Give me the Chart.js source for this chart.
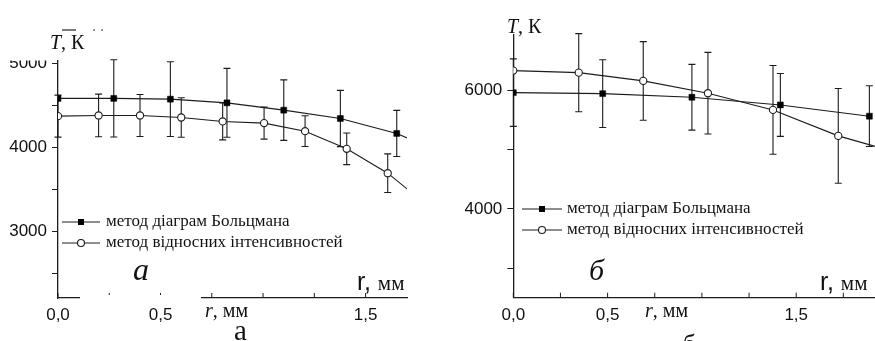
<!DOCTYPE html>
<html>
<head>
<meta charset="utf-8">
<script src="https://cdn.jsdelivr.net/npm/chart.js@4.4.0/dist/chart.umd.min.js"></script>
<style>
  body { margin: 0; background: #fff; width: 875px; height: 341px; overflow: hidden; position: relative; }
  canvas { position: absolute; top: 0; }
  #ga { left: 0; }
  #gb { left: 440px; }
</style>
</head>
<body>
<canvas id="ga" width="440" height="341"></canvas>
<canvas id="gb" width="470" height="341"></canvas>
<script>
const seriesNames = ['метод діаграм Больцмана', 'метод відносних інтенсивностей'];

// panel а
const rBoltzA = [0, 0.272, 0.548, 0.824, 1.101, 1.377, 1.652, 1.93];
const tBoltzA = [4580, 4580, 4571, 4527, 4440, 4341, 4163, 3870];
const errBoltzA = [null, 460, 445, 410, 360, 335, 275, null];
const rRelA = [0, 0.198, 0.40, 0.601, 0.803, 1.005, 1.205, 1.408, 1.608, 1.81];
const tRelA = [4369, 4377, 4377, 4353, 4306, 4286, 4190, 3980, 3690, 3290];
const errRelA = [250, 254, 250, 235, 220, 190, 183, 188, 230, null];
const xTicksA = [0, 0.25, 0.5, 0.75, 1, 1.25, 1.5];
const yTicksA = [2500, 3000, 3500, 4000, 4500, 5000];
const xLabelsA = { 0: '0,0', 0.5: '0,5', 1.5: '1,5' };
const yLabelsA = { 3000: '3000', 4000: '4000', 5000: '5000' };

// panel б
const rBoltzB = [0, 0.474, 0.947, 1.416, 1.888];
const tBoltzB = [5966, 5949, 5888, 5758, 5568];
const errBoltzB = [570, 572, 555, 532, 513];
const rRelB = [0, 0.347, 0.689, 1.032, 1.377, 1.723, 2.068];
const tRelB = [6338, 6304, 6164, 5956, 5674, 5235, 4923];
const errRelB = [null, 660, 664, 690, 750, 800, null];
const xTicksB = [0, 0.25, 0.5, 0.75, 1, 1.25, 1.5, 1.75];
const yTicksB = [3000, 4000, 5000, 6000];
const xLabelsB = { 0: '0,0', 0.5: '0,5', 1.5: '1,5' };
const yLabelsB = { 4000: '4000', 6000: '6000' };

const INK = '#1c1c1c';
const SERIF = '"Liberation Serif", "Times New Roman", serif';
const SANS = '"Liberation Sans", Arial, sans-serif';

function pts(xs, ys) {
    return xs.map((x, i) => ({ x: x, y: ys[i] }));
}

function drawParts(ctx, x, y, parts) {
    ctx.textBaseline = 'alphabetic';
    ctx.textAlign = 'left';
    for (const p of parts) {
        ctx.font = p[1];
        ctx.fillText(p[0], x, y);
        x += ctx.measureText(p[0]).width;
    }
}

const extras = {
    id: 'extras',
    beforeDatasetsDraw(chart, args, o) {
        const ctx = chart.ctx;
        const xs = chart.scales.x, ys = chart.scales.y;
        ctx.save();
        ctx.strokeStyle = INK;
        ctx.lineWidth = 1.1;
        o.errors.forEach((errs, d) => {
            chart.data.datasets[d].data.forEach((p, i) => {
                const e = errs[i];
                if (e == null) return;
                const px = xs.getPixelForValue(p.x);
                const y1 = ys.getPixelForValue(p.y + e);
                const y2 = ys.getPixelForValue(p.y - e);
                ctx.beginPath();
                ctx.moveTo(px, y1); ctx.lineTo(px, y2);
                ctx.moveTo(px - 3.5, y1); ctx.lineTo(px + 3.5, y1);
                ctx.moveTo(px - 3.5, y2); ctx.lineTo(px + 3.5, y2);
                ctx.stroke();
            });
        });
        ctx.restore();
    },
    afterDraw(chart, args, o) {
        const ctx = chart.ctx;
        const xs = chart.scales.x;
        const bottom = chart.chartArea.bottom;
        ctx.save();
        // inward ticks on r axis
        ctx.strokeStyle = INK;
        ctx.lineWidth = 1;
        xs.ticks.forEach(t => {
            const px = xs.getPixelForValue(t.value);
            ctx.beginPath();
            ctx.moveTo(px, bottom);
            ctx.lineTo(px, bottom - 5);
            ctx.stroke();
        });
        // legend
        const lg = o.legend;
        chart.data.datasets.forEach((ds, i) => {
            const y = lg.y + i * lg.gap;
            ctx.strokeStyle = INK;
            ctx.lineWidth = 1.1;
            ctx.beginPath();
            ctx.moveTo(lg.x0, y); ctx.lineTo(lg.x1, y);
            ctx.stroke();
            const mx = (lg.x0 + lg.x1) / 2;
            if (i === 0) {
                ctx.fillStyle = '#000';
                ctx.fillRect(mx - 3, y - 3, 6, 6);
            } else {
                ctx.fillStyle = '#fff';
                ctx.beginPath();
                ctx.arc(mx, y, 3.5, 0, Math.PI * 2);
                ctx.fill();
                ctx.stroke();
            }
            ctx.fillStyle = '#111';
            ctx.font = lg.font;
            ctx.textBaseline = 'middle';
            ctx.textAlign = 'left';
            ctx.fillText(ds.label, lg.tx, y);
        });
        // white patches as in the scan
        ctx.fillStyle = '#fff';
        o.masks.forEach(m => ctx.fillRect(m[0], m[1], m[2], m[3]));
        // captions
        ctx.fillStyle = '#111';
        o.texts.forEach(t => drawParts(ctx, t.x, t.y, t.parts));
        ctx.strokeStyle = '#333';
        o.strokes.forEach(s => {
            ctx.lineWidth = s[4];
            ctx.beginPath();
            ctx.moveTo(s[0], s[1]); ctx.lineTo(s[2], s[3]);
            ctx.stroke();
        });
        ctx.restore();
    }
};

function makeChart(id, cfg) {
    return new Chart(document.getElementById(id), {
        type: 'line',
        data: {
            datasets: [{
                label: seriesNames[0],
                data: pts(cfg.rBoltz, cfg.tBoltz),
                borderColor: INK,
                borderWidth: 1.1,
                pointStyle: 'rect',
                pointRadius: 4.2,
                pointBackgroundColor: '#000',
                pointBorderColor: '#000',
                pointBorderWidth: 0.5,
                tension: 0
            }, {
                label: seriesNames[1],
                data: pts(cfg.rRel, cfg.tRel),
                borderColor: INK,
                borderWidth: 1.1,
                pointStyle: 'circle',
                pointRadius: 3.6,
                pointBackgroundColor: '#fff',
                pointBorderColor: INK,
                pointBorderWidth: 1.1,
                tension: 0
            }]
        },
        options: {
            responsive: false,
            animation: false,
            layout: { padding: { left: 0, right: cfg.padRight, top: cfg.padTop, bottom: 0 } },
            scales: {
                x: {
                    type: 'linear',
                    min: 0,
                    max: cfg.xMax,
                    afterBuildTicks: s => { s.ticks = cfg.xTicks.map(v => ({ value: v })); },
                    afterFit: s => { s.height = cfg.xHeight; },
                    border: { display: true, color: INK, width: 1.3 },
                    grid: { display: true, drawOnChartArea: false, drawTicks: false },
                    ticks: {
                        padding: 7,
                        color: '#111',
                        font: { family: SANS, size: 17 },
                        maxRotation: 0,
                        autoSkip: false,
                        callback: v => cfg.xLabels[v] || ''
                    }
                },
                y: {
                    type: 'linear',
                    min: cfg.yMin,
                    max: cfg.yMax,
                    afterBuildTicks: s => { s.ticks = cfg.yTicks.map(v => ({ value: v })); },
                    afterFit: s => { s.width = cfg.yWidth; },
                    border: { display: true, color: INK, width: 1.3 },
                    grid: { display: true, drawOnChartArea: false, drawTicks: true, tickLength: 6, color: INK },
                    ticks: {
                        padding: 5,
                        color: '#111',
                        font: { family: SANS, size: 17 },
                        autoSkip: false,
                        callback: v => cfg.yLabels[v] || ''
                    }
                }
            },
            plugins: {
                legend: { display: false },
                tooltip: { enabled: false },
                extras: {
                    errors: [cfg.errBoltz, cfg.errRel],
                    legend: cfg.legend,
                    masks: cfg.masks,
                    texts: cfg.texts,
                    strokes: cfg.strokes
                }
            }
        },
        plugins: [extras]
    });
}

const capFont = '20px ' + SERIF;
const capItalic = 'italic 20px ' + SERIF;

makeChart('ga', {
    rBoltz: rBoltzA, tBoltz: tBoltzA, errBoltz: errBoltzA,
    rRel: rRelA, tRel: tRelA, errRel: errRelA,
    xTicks: xTicksA, yTicks: yTicksA, xLabels: xLabelsA, yLabels: yLabelsA,
    xMax: 1.702, yMin: 2205, yMax: 5025,
    padTop: 61, padRight: 33, yWidth: 58, xHeight: 43,
    legend: { x0: 62, x1: 100, tx: 106, y: 222, gap: 21, font: '17px ' + SERIF },
    masks: [[0, 0, 49, 60.5], [80, 295, 121, 5]],
    texts: [
        { x: 50, y: 49, parts: [['T', capItalic], [', К', capFont]] },
        { x: 133, y: 280, parts: [['а', 'italic 32px ' + SERIF]] },
        { x: 357, y: 290, parts: [['r, ', '25px ' + SANS], ['мм', '21px ' + SERIF]] },
        { x: 205, y: 317, parts: [['r', capItalic], [', мм', capFont]] },
        { x: 234, y: 340, parts: [['а', '29px ' + SERIF]] }
    ],
    strokes: [[62, 30, 76, 30, 1.3], [93, 30, 95, 30, 1], [101, 30, 103, 30, 1]]
});

makeChart('gb', {
    rBoltz: rBoltzB, tBoltz: tBoltzB, errBoltz: errBoltzB,
    rRel: rRelB, tRel: tRelB, errRel: errRelB,
    xTicks: xTicksB, yTicks: yTicksB, xLabels: xLabelsB, yLabels: yLabelsB,
    xMax: 2.0, yMin: 2500, yMax: 6940,
    padTop: 35, padRight: 19.5, yWidth: 73.3, xHeight: 43.3,
    legend: { x0: 82, x1: 122, tx: 127, y: 209, gap: 21, font: '17px ' + SERIF },
    masks: [],
    texts: [
        { x: 67, y: 33, parts: [['T', capItalic], [', К', capFont]] },
        { x: 149, y: 280, parts: [['б', 'italic 30px ' + SERIF]] },
        { x: 380, y: 290, parts: [['r, ', '25px ' + SANS], ['мм', '21px ' + SERIF]] },
        { x: 205, y: 317, parts: [['r', capItalic], [', мм', capFont]] },
        { x: 243, y: 352, parts: [['б', '25px ' + SERIF]] }
    ],
    strokes: []
});
</script>
</body>
</html>
